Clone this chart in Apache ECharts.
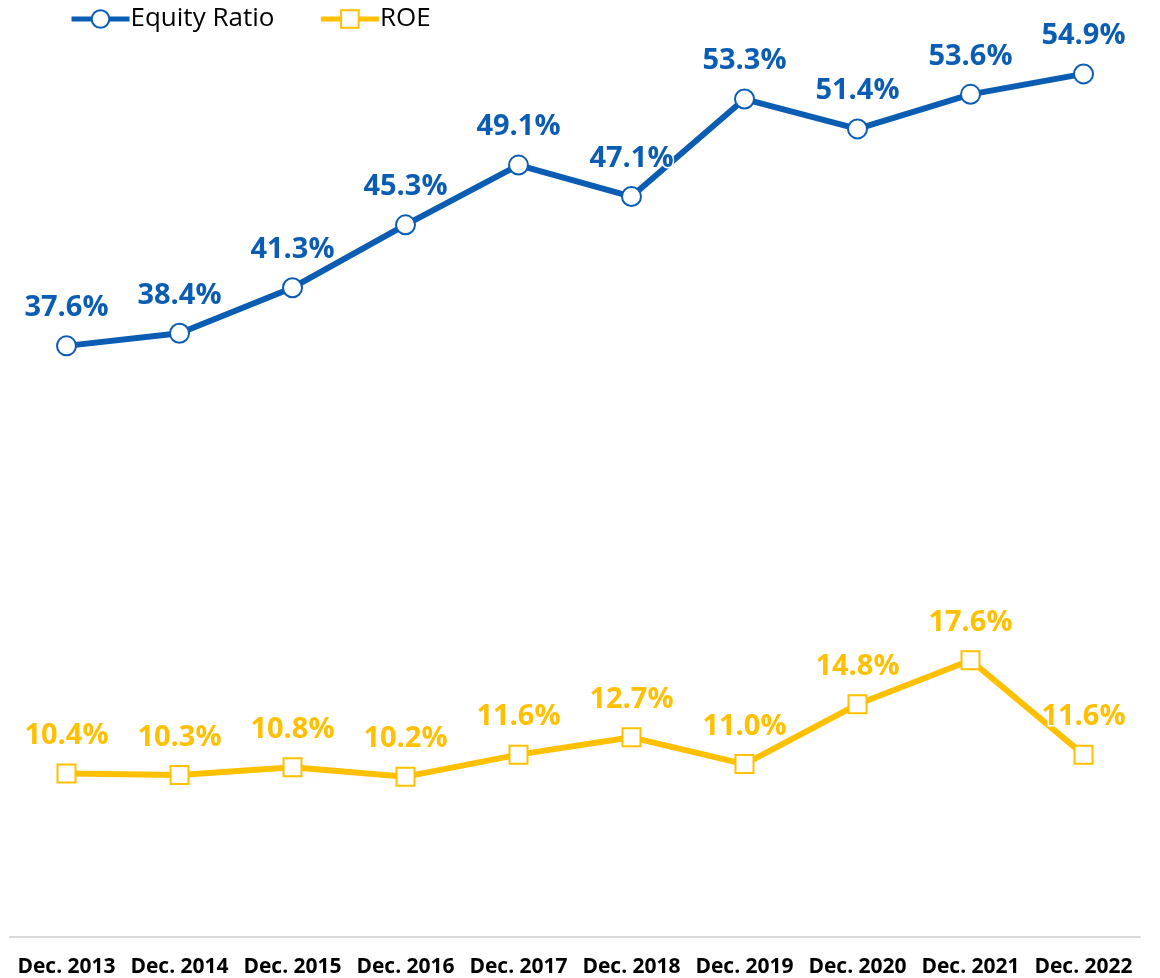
<!DOCTYPE html>
<html>
<head>
<meta charset="utf-8">
<script src="https://cdn.jsdelivr.net/npm/echarts@6/dist/echarts.min.js"></script>
<style>
  html, body { margin: 0; padding: 0; background: #fff; }
  #main { width: 1160px; height: 978px; }
</style>
</head>
<body>
<div id="main"></div>
<script>
let years = ["Dec. 2013", "Dec. 2014", "Dec. 2015", "Dec. 2016", "Dec. 2017",
  "Dec. 2018", "Dec. 2019", "Dec. 2020", "Dec. 2021", "Dec. 2022"];
let equityRatio = [37.6, 38.4, 41.3, 45.3, 49.1, 47.1, 53.3, 51.4, 53.6, 54.9];
let roe = [10.4, 10.3, 10.8, 10.2, 11.6, 12.7, 11.0, 14.8, 17.6, 11.6];

let blue = "#0b5db3";
let yellow = "#ffc000";
let font = "'Open Sans', 'Noto Sans', sans-serif";

let chart = echarts.init(document.getElementById("main"));

function labelStyle(color) {
  return {
    show: true,
    position: "top",
    distance: 13,
    color: color,
    fontSize: 29,
    fontWeight: "bold",
    fontFamily: font,
    textBorderColor: "#fff",
    textBorderWidth: 3,
    formatter: function (p) {
      return p.value.toFixed(1) + "%";
    },
  };
}

let option = {
  animation: false,
  legend: {
    left: 64,
    top: 1,
    itemWidth: 58,
    itemHeight: 22,
    itemGap: 44,
    lineStyle: { width: 5 },
    textStyle: { fontSize: 26, fontFamily: font, color: "#000", padding: [0, 0, 0, -4] },
    data: ["Equity Ratio", "ROE"],
  },
  grid: { left: 10, right: 20, top: 0, bottom: 41 },
  xAxis: {
    type: "category",
    data: years,
    axisLine: { lineStyle: { color: "#d9d9d9", width: 2 } },
    axisTick: { show: false },
    axisLabel: {
      color: "#000",
      fontSize: 21,
      fontWeight: "bold",
      fontFamily: font,
      margin: 20,
      interval: 0,
    },
  },
  yAxis: {
    type: "value",
    min: 0,
    max: 59.6,
    show: false,
    splitLine: { show: false },
  },
  series: [
    {
      name: "Equity Ratio",
      type: "line",
      data: equityRatio,
      symbol: "circle",
      symbolSize: 19,
      lineStyle: { color: blue, width: 6 },
      itemStyle: { color: "#fff", borderColor: blue, borderWidth: 2 },
      label: labelStyle(blue),
    },
    {
      name: "ROE",
      type: "line",
      data: roe,
      symbol: "rect",
      symbolSize: 18,
      lineStyle: { color: yellow, width: 6 },
      itemStyle: { color: "#fff", borderColor: yellow, borderWidth: 2 },
      label: labelStyle(yellow),
    },
  ],
};

chart.setOption(option);
</script>
</body>
</html>
